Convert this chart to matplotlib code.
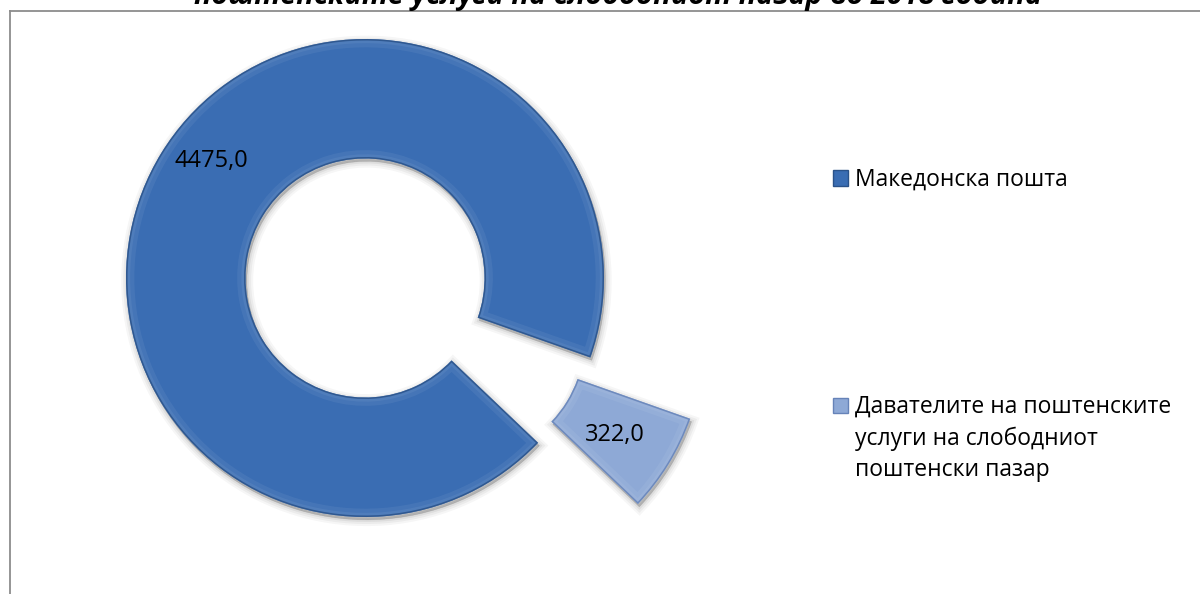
import matplotlib
matplotlib.use("Agg")
import matplotlib.pyplot as plt
from matplotlib.patches import Rectangle, Wedge
from matplotlib.lines import Line2D

# ---- data ----
categories = ["Македонска пошта",
              "Давателите на поштенските\nуслуги на слободниот\nпоштенски пазар"]
values = [4475.0, 322.0]
value_labels = ["4475,0", "322,0"]
title = "поштенските услуги на слободниот пазар во 2018 година"

# ---- style ----
W, H = 1200, 594
colors = ["#3A6DB3", "#8EA9D6"]
edges = ["#2A5289", "#6683B8"]
FONT = ["Open Sans", "DejaVu Sans"]
plt.rcParams["font.family"] = FONT

fig = plt.figure(figsize=(W / 100, H / 100), dpi=100)
fig.patch.set_facecolor("white")
ax = fig.add_axes([0, 0, 1, 1])

cx, cy, R = 365, 278, 239  # pixel centre / radius
wedges, _ = ax.pie(values, startangle=-43.6, counterclock=False,
                   explode=[0, 0.49], radius=1,
                   colors=colors,
                   wedgeprops=dict(width=0.5, linewidth=0, zorder=3))

for w, ec in zip(wedges, edges):
    (wx, wy), r, t1, t2, wd = w.center, w.r, w.theta1, w.theta2, w.width
    # soft shadow
    for lw, a in [(9, 0.035), (6, 0.045), (3, 0.06), (0.5, 0.07)]:
        ax.add_patch(Wedge((wx + 0.006, wy - 0.012), r, t1, t2, width=wd,
                           facecolor="black", edgecolor="black",
                           linewidth=lw, alpha=a, zorder=1))
    # bevel: light inner band and dark rim, clipped to the wedge
    for lw, col, a in [(12, "white", 0.06), (6, "white", 0.06),
                       (2.2, ec, 0.85)]:
        p = Wedge((wx, wy), r, t1, t2, width=wd, facecolor="none",
                  edgecolor=col, linewidth=lw, alpha=a, zorder=4)
        ax.add_patch(p)
        p.set_clip_path(w)

ax.set_aspect("auto")
ax.set_xlim(-cx / R, (W - cx) / R)
ax.set_ylim(-(H - cy) / R, cy / R)
ax.axis("off")

# value labels
label_pos = [(-0.644, 0.49), (1.046, -0.657)]
for (x, y), t in zip(label_pos, value_labels):
    ax.text(x, y, t, ha="center", va="center", fontsize=17, color="black",
            zorder=6)

# legend (manual)
leg_y = [178, 405]
for yy, c, ec, lab in zip(leg_y, colors, edges, categories):
    fig.add_artist(Rectangle((833 / W, 1 - (yy + 7.5) / H), 15 / W, 15 / H,
                             transform=fig.transFigure, facecolor=c,
                             edgecolor=ec, linewidth=1))
    fig.text(855 / W, 1 - (yy - 10) / H, lab, ha="left", va="top",
             fontsize=16.5, linespacing=1.39,
             transform=fig.transFigure)

# frame
fig.add_artist(Line2D([10 / W, 10 / W], [0, 1 - 10.5 / H], color="#8C8C8C",
                      linewidth=1.3, transform=fig.transFigure))
fig.add_artist(Line2D([10 / W, 1], [1 - 10.5 / H, 1 - 10.5 / H], color="#8C8C8C",
                      linewidth=1.3, transform=fig.transFigure))

# title (partly above the top edge, as in the reference)
fig.text(618 / W, 1 - 4 / H, title, ha="center", va="baseline",
         fontsize=20.7, fontweight="bold", style="italic")

fig.savefig("out.png", dpi=100)
